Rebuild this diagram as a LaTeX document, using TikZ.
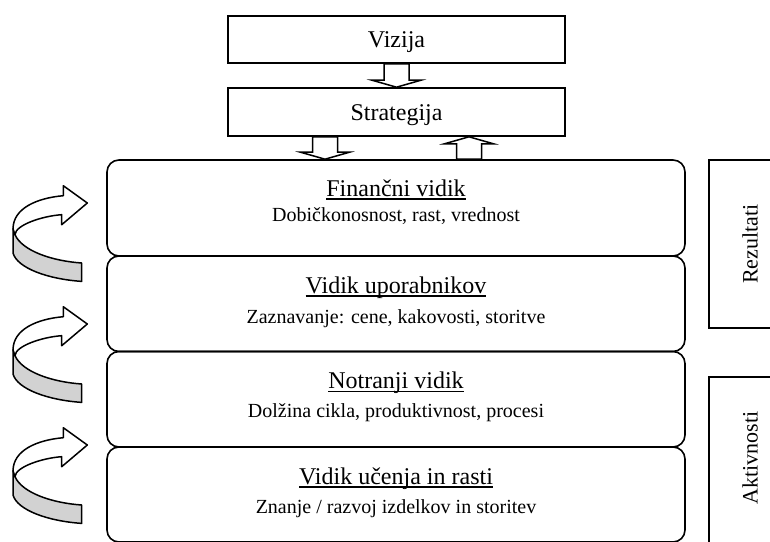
\documentclass[tikz,border=0pt]{standalone}
\usepackage{fontspec}
\setmainfont{Liberation Serif}
\usetikzlibrary{calc}
\definecolor{trak}{RGB}{210,210,210}
\newcommand\podcrtaj[1]{\setbox0\hbox{#1}\rlap{\rule[-3.6pt]{\wd0}{1.5pt}}\box0}
\tikzset{
  okvir/.style={draw, line width=1.6pt, inner sep=0pt},
  zgornji/.style={okvir, minimum width=337pt, text height=18pt, text depth=2pt,
    font=\fontsize{24}{28}\selectfont},
  vidik/.style={okvir, rounded corners=12pt, minimum width=578pt},
  stranski/.style={okvir, minimum width=91pt},
  naslov/.style={anchor=base, inner sep=0pt, font=\fontsize{24}{28}\selectfont},
  opis/.style={anchor=base, inner sep=0pt, font=\fontsize{20}{24}\selectfont},
  oznaka/.style={inner sep=0pt, rotate=90, font=\fontsize{22}{26}\selectfont},
  blok/.style={draw, fill=white, line width=1.5pt},
  trakovi/.style={draw, line width=1.5pt, line join=round},
}
\begin{document}
\begin{tikzpicture}[x=1pt, y=-1pt]
  \useasboundingbox (0,0) rectangle (770,541);
  \clip (0,0) rectangle (770,541);

  % vizija in strategija
  \node[zgornji, minimum height=47pt] (vizija) at (396.5,39.5) {Vizija};
  \node[zgornji, minimum height=48pt] (strategija) at (396.5,112) {Strategija};

  % stirje vidiki
  \node[vidik, minimum height=96pt] (financni) at (396,208) {};
  \node[vidik, minimum height=95.5pt] (uporabniki) at (396,303.75) {};
  \node[vidik, minimum height=95.5pt] (notranji) at (396,399.25) {};
  \node[vidik, minimum height=95pt] (ucenje) at (396,494.5) {};

  \node[naslov] (financni-n) at ($(financni.north)+(0,37)$) {\podcrtaj{Finančni vidik}};
  \node[opis] (financni-o) at ($(financni.north)+(0,62)$) {Dobičkonosnost, rast, vrednost};
  \node[naslov] (uporabniki-n) at ($(uporabniki.north)+(0,38)$) {\podcrtaj{Vidik uporabnikov}};
  \node[opis] (uporabniki-o) at ($(uporabniki.north)+(0,68)$) {Zaznavanje: cene, kakovosti, storitve};
  \node[naslov] (notranji-n) at ($(notranji.north)+(0,38)$) {\podcrtaj{Notranji vidik}};
  \node[opis] (notranji-o) at ($(notranji.north)+(0,67)$) {Dolžina cikla, produktivnost, procesi};
  \node[naslov] (ucenje-n) at ($(ucenje.north)+(0,38)$) {\podcrtaj{Vidik učenja in rasti}};
  \node[opis] (ucenje-o) at ($(ucenje.north)+(0,67)$) {Znanje / razvoj izdelkov in storitev};

  % rezultati in aktivnosti
  \node[stranski, minimum height=168pt] (rezultati) at (754.5,244) {};
  \node[stranski, minimum height=183pt] (aktivnosti) at (754.5,468.5) {};
  \node[oznaka] (rezultati-t) at (750,244) {Rezultati};
  \node[oznaka] (aktivnosti-t) at (750,458) {Aktivnosti};

  % blocne puscice
  \coordinate (v-dol) at (vizija.south);
  \coordinate (s-vrh) at (strategija.north);
  \coordinate (s-dol) at ($(strategija.south)+(-71.5,0)$);
  \coordinate (s-gor) at ($(strategija.south)+(72.5,0)$);
  \coordinate (f-dol) at (s-dol |- financni.north);
  \coordinate (f-gor) at (s-gor |- financni.north);
  \foreach \a/\b/\h in {v-dol/s-vrh/-7, s-dol/f-dol/-7, f-gor/s-gor/7}
    \draw[blok] ($(\a)+(-12.5,0)$) -- ($(\a)+(12.5,0)$) -- ($(\b)+(12.5,\h)$)
      -- ($(\b)+(24.5,\h)$) -- (\b) -- ($(\b)+(-24.5,\h)$) -- ($(\b)+(-12.5,\h)$) -- cycle;

  % ukrivljene puscice
  \foreach \y in {203,324,445} {
    \begin{scope}[shift={(87.3,\y)}]
      \filldraw[trakovi, fill=trak] (-74.3,25.7) -- (-74.3,50)
        .. controls (-70,65) and (-40,76) .. (-5.6,78.4) -- (-5.6,60)
        .. controls (-35,58) and (-65,48) .. (-72.3,31.7) -- cycle;
      \filldraw[trakovi, fill=white] (-24,-7.3)
        .. controls (-50,-5) and (-74,5) .. (-74.3,25.7) -- (-72.3,31.7)
        .. controls (-72,22) and (-45,13) .. (-25.6,11.7) -- (-25.6,21.7)
        -- (0,0) -- (-24,-17.3) -- cycle;
    \end{scope}
  }
\end{tikzpicture}
\end{document}
